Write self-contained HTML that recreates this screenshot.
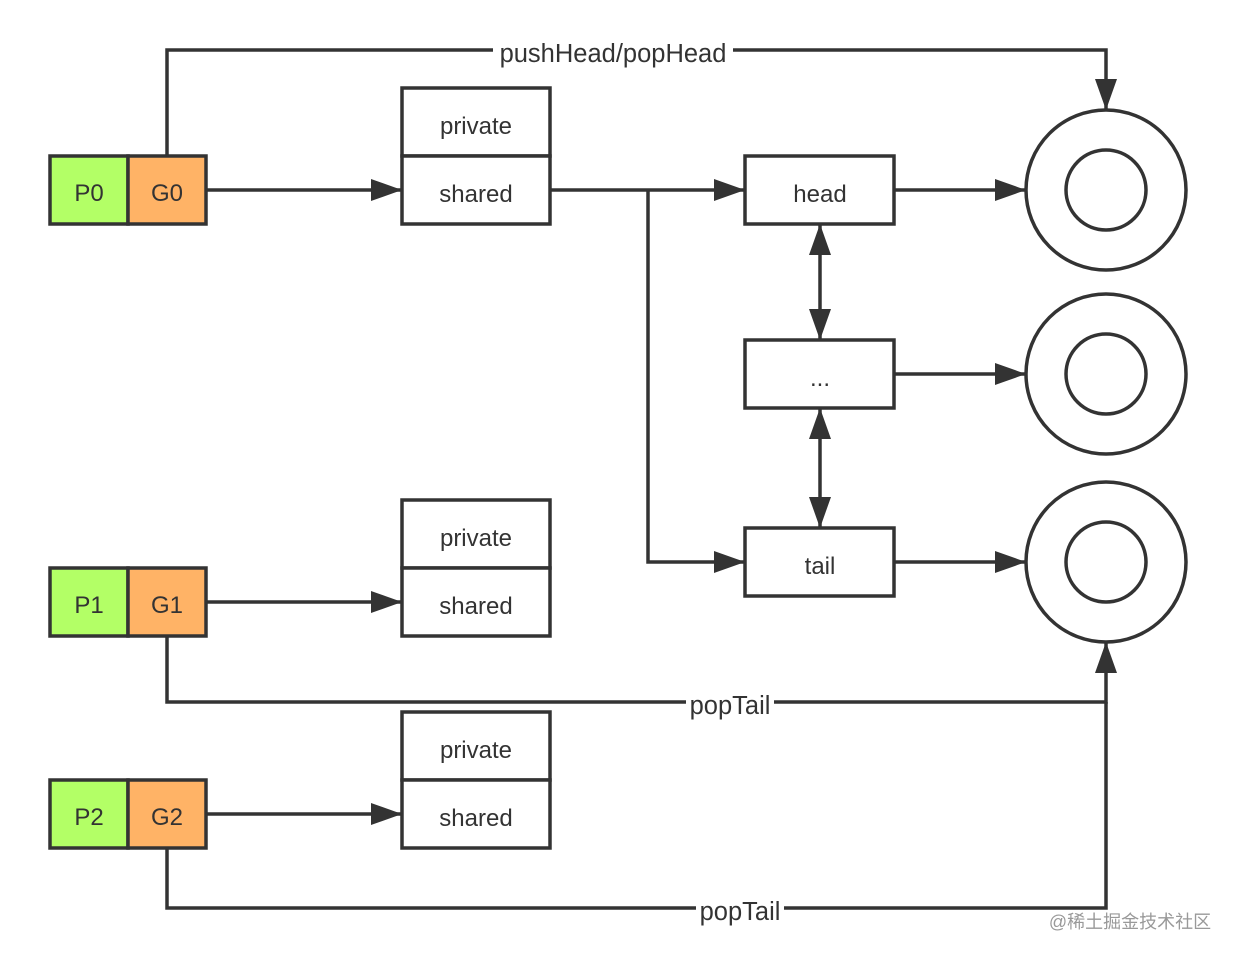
<!DOCTYPE html>
<html><head><meta charset="utf-8"><style>
html,body{margin:0;padding:0;background:#fff;}
svg{display:block;}
text{font-family:"Liberation Sans",sans-serif;font-size:24px;fill:#333;}
</style></head><body>
<svg width="1236" height="957" viewBox="0 0 1236 957" xmlns="http://www.w3.org/2000/svg">
<defs>
<marker id="a" markerUnits="userSpaceOnUse" markerWidth="32" markerHeight="24" refX="31" refY="11" orient="auto">
<path d="M0,0 L31,11 L0,22 Z" fill="#333"/>
</marker>
</defs>
<g stroke="#333" stroke-width="3.5" fill="none">
<polyline points="167,156 167,50 1106,50 1106,110" marker-end="url(#a)"/>
<line x1="206" y1="190" x2="402" y2="190" marker-end="url(#a)"/>
<line x1="206" y1="602" x2="402" y2="602" marker-end="url(#a)"/>
<line x1="206" y1="814" x2="402" y2="814" marker-end="url(#a)"/>
<line x1="550" y1="190" x2="745" y2="190" marker-end="url(#a)"/>
<polyline points="648,190 648,562 745,562" marker-end="url(#a)"/>
<line x1="894" y1="190" x2="1026" y2="190" marker-end="url(#a)"/>
<line x1="894" y1="374" x2="1026" y2="374" marker-end="url(#a)"/>
<line x1="894" y1="562" x2="1026" y2="562" marker-end="url(#a)"/>
<line x1="820" y1="282" x2="820" y2="224" marker-end="url(#a)"/>
<line x1="820" y1="282" x2="820" y2="340" marker-end="url(#a)"/>
<line x1="820" y1="468" x2="820" y2="408" marker-end="url(#a)"/>
<line x1="820" y1="468" x2="820" y2="528" marker-end="url(#a)"/>
<polyline points="167,636 167,702 1106,702 1106,642" marker-end="url(#a)"/>
<polyline points="167,848 167,908 1106,908 1106,702"/>
<circle cx="1106" cy="190" r="80"/><circle cx="1106" cy="190" r="40"/>
<circle cx="1106" cy="374" r="80"/><circle cx="1106" cy="374" r="40"/>
<circle cx="1106" cy="562" r="80"/><circle cx="1106" cy="562" r="40"/>
</g>
<g stroke="#333" stroke-width="3.5">
<rect x="50" y="156" width="78" height="68" fill="#b3ff66"/><rect x="128" y="156" width="78" height="68" fill="#ffb366"/>
<rect x="50" y="568" width="78" height="68" fill="#b3ff66"/><rect x="128" y="568" width="78" height="68" fill="#ffb366"/>
<rect x="50" y="780" width="78" height="68" fill="#b3ff66"/><rect x="128" y="780" width="78" height="68" fill="#ffb366"/>
<rect x="402" y="88" width="148" height="68" fill="#fff"/><rect x="402" y="156" width="148" height="68" fill="#fff"/>
<rect x="402" y="500" width="148" height="68" fill="#fff"/><rect x="402" y="568" width="148" height="68" fill="#fff"/>
<rect x="402" y="712" width="148" height="68" fill="#fff"/><rect x="402" y="780" width="148" height="68" fill="#fff"/>
<rect x="745" y="156" width="149" height="68" fill="#fff"/>
<rect x="745" y="340" width="149" height="68" fill="#fff"/>
<rect x="745" y="528" width="149" height="68" fill="#fff"/>
</g>
<rect x="493" y="38" width="240" height="28" fill="#fff"/>
<rect x="686" y="690" width="88" height="28" fill="#fff"/>
<rect x="696" y="896" width="88" height="28" fill="#fff"/>
<g text-anchor="middle">
<text x="89" y="201">P0</text><text x="167" y="201">G0</text>
<text x="89" y="613">P1</text><text x="167" y="613">G1</text>
<text x="89" y="825">P2</text><text x="167" y="825">G2</text>
<text x="476" y="134">private</text><text x="476" y="202">shared</text>
<text x="476" y="546">private</text><text x="476" y="614">shared</text>
<text x="476" y="758">private</text><text x="476" y="826">shared</text>
<text x="820" y="202">head</text>
<text x="820" y="386">...</text>
<text x="820" y="574">tail</text>
<text x="613" y="62" style="font-size:25.5px">pushHead/popHead</text>
<text x="730" y="714" style="font-size:25.5px">popTail</text>
<text x="740" y="920" style="font-size:25.5px">popTail</text>
</g>
<text x="1130" y="928" text-anchor="middle" style="font-family:'Liberation Sans','Noto Sans CJK SC',sans-serif;font-size:18px;fill:#999;">@稀土掘金技术社区</text>
</svg>
</body></html>
